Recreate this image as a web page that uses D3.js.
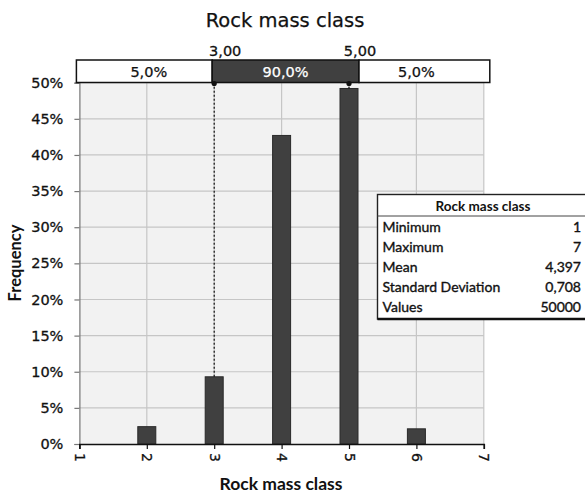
<!DOCTYPE html>
<html>
<head>
<meta charset="utf-8">
<script src="https://cdn.jsdelivr.net/npm/d3@7"></script>
<style>
  html, body { margin: 0; padding: 0; background: #fff; }
  svg { display: block; }
  text { paint-order: stroke; }
</style>
</head>
<body>
<svg id="chart" width="585" height="497"></svg>
<script>
// Histogram data: class value -> relative frequency
const classes = [2, 3, 4, 5, 6];
const frequencies = [0.024, 0.093, 0.427, 0.492, 0.021];

// Axis ticks
const xTicks = [1, 2, 3, 4, 5, 6, 7];
const yTicks = [0, 0.05, 0.10, 0.15, 0.20, 0.25, 0.30, 0.35, 0.40, 0.45, 0.50];

// Delimiters and the probability shares between them
const delimiters = [3, 5];
const delimiterLabels = ["3,00", "5,00"];
const bandShares = ["5,0%", "90,0%", "5,0%"];

// Summary statistics
const statNames = ["Minimum", "Maximum", "Mean", "Standard Deviation", "Values"];
const statValues = ["1", "7", "4,397", "0,708", "50000"];

const titleText = "Rock mass class";
const xTitle = "Rock mass class";
const yTitle = "Frequency";

const svg = d3.select("#chart");
const tahoma = "'DejaVu Sans', Verdana, sans-serif";
const calibri = "Lato, 'Open Sans', sans-serif";

// Slightly heavier strokes on text, matching the printed look
function ink(sel, color, w) {
  return sel.attr("fill", color).attr("stroke", color).attr("stroke-width", w);
}

const plot = { left: 79.4, right: 483.8, top: 82.7, bottom: 444 };

const x = d3.scaleLinear().domain([1, 7]).range([plot.left, plot.right]);
const y = d3.scaleLinear().domain([0, 0.5]).range([plot.bottom, plot.top]);

// Title
ink(svg.append("text")
  .attr("x", 285).attr("y", 27)
  .attr("text-anchor", "middle")
  .attr("font-family", tahoma).attr("font-size", 19.5)
  .text(titleText), "#111", 0.25);

// Plot background
svg.append("rect")
  .attr("x", plot.left).attr("y", plot.top)
  .attr("width", plot.right - plot.left).attr("height", plot.bottom - plot.top)
  .attr("fill", "#f2f2f2");

// Grid lines
svg.append("g").selectAll("line").data(xTicks.slice(1))
  .join("line")
  .attr("x1", d => x(d)).attr("x2", d => x(d))
  .attr("y1", plot.top).attr("y2", plot.bottom)
  .attr("stroke", "#c6c6c6").attr("stroke-width", 1.2);
svg.append("g").selectAll("line").data(yTicks.slice(1))
  .join("line")
  .attr("x1", plot.left).attr("x2", plot.right)
  .attr("y1", d => y(d)).attr("y2", d => y(d))
  .attr("stroke", "#c6c6c6").attr("stroke-width", 1.2);

// Y axis
const yAxis = d3.axisLeft(y).tickValues(yTicks).tickSize(5).tickPadding(11)
  .tickFormat(d => Math.round(d * 100) + "%");
const gy = svg.append("g").attr("transform", `translate(${plot.left},0)`).call(yAxis);
gy.select(".domain").attr("stroke", "#777").attr("stroke-width", 1.2);
gy.selectAll(".tick line").attr("stroke", "#777").attr("stroke-width", 1.2);
ink(gy.selectAll(".tick text")
  .attr("font-family", tahoma).attr("font-size", 14.5), "#111", 0.3);

// Bars
const barW = 18;
svg.append("g").selectAll("rect").data(classes)
  .join("rect")
  .attr("x", (d) => x(d) - barW / 2)
  .attr("y", (d, i) => y(frequencies[i]))
  .attr("width", barW)
  .attr("height", (d, i) => y(0) - y(frequencies[i]))
  .attr("fill", "#404040")
  .attr("stroke", "#2a2a2a").attr("stroke-width", 1);

// X axis
const xAxis = d3.axisBottom(x).tickValues(xTicks).tickSize(5).tickFormat(d3.format("d"));
const gx = svg.append("g").attr("transform", `translate(0,${plot.bottom})`).call(xAxis);
gx.select(".domain").attr("stroke", "#111").attr("stroke-width", 1.6);
gx.selectAll(".tick line").attr("stroke", "#111").attr("stroke-width", 1.2);
ink(gx.selectAll(".tick text")
  .attr("font-family", tahoma).attr("font-size", 14)
  .attr("transform", "rotate(90)")
  .attr("text-anchor", "start")
  .attr("x", 9).attr("y", 0).attr("dy", "0.35em"), "#111", 0.3);

// Delimiter lines from the band down to the bar tops
const freqOf = v => frequencies[classes.indexOf(v)];
svg.append("g").selectAll("line").data(delimiters)
  .join("line")
  .attr("x1", d => x(d)).attr("x2", d => x(d))
  .attr("y1", plot.top).attr("y2", d => y(freqOf(d)))
  .attr("stroke", "#111").attr("stroke-width", 1.2)
  .attr("stroke-dasharray", "2,2");

// Probability band above the plot
const band = { top: 60, bottom: 82.5, left: plot.left - 3, right: plot.right + 6 };
const edges = [band.left, x(delimiters[0]) - 2, x(delimiters[1]) + 10, band.right];
const centers = [
  (plot.left + x(delimiters[0])) / 2 + 2,
  (x(delimiters[0]) + x(delimiters[1])) / 2 + 4,
  (x(delimiters[1]) + plot.right) / 2
];
const bandG = svg.append("g");
bandG.selectAll("rect").data(bandShares)
  .join("rect")
  .attr("x", (d, i) => edges[i])
  .attr("y", band.top)
  .attr("width", (d, i) => edges[i + 1] - edges[i])
  .attr("height", band.bottom - band.top)
  .attr("fill", (d, i) => i === 1 ? "#404040" : "#fff")
  .attr("stroke", "#111").attr("stroke-width", 1.5);
bandG.selectAll("text").data(bandShares)
  .join("text")
  .attr("x", (d, i) => centers[i])
  .attr("y", 77)
  .attr("text-anchor", "middle")
  .attr("font-family", tahoma).attr("font-size", 14.5)
  .attr("fill", (d, i) => i === 1 ? "#fff" : "#111")
  .attr("stroke", (d, i) => i === 1 ? "#fff" : "#111")
  .attr("stroke-width", 0.25)
  .text(d => d);

// Delimiter markers and values
svg.append("g").selectAll("circle").data(delimiters)
  .join("circle")
  .attr("cx", d => x(d)).attr("cy", band.bottom + 1)
  .attr("r", 2.6).attr("fill", "#111");
ink(svg.append("g").selectAll("text").data(delimiters)
  .join("text")
  .attr("x", d => x(d) + 11).attr("y", 56)
  .attr("text-anchor", "middle")
  .attr("font-family", tahoma).attr("font-size", 14.5)
  .text((d, i) => delimiterLabels[i]), "#111", 0.3);

// Axis titles
svg.append("text")
  .attr("x", 281).attr("y", 490)
  .attr("text-anchor", "middle")
  .attr("font-family", calibri).attr("font-weight", "bold").attr("font-size", 17.5)
  .attr("fill", "#111")
  .text(xTitle);
svg.append("text")
  .attr("transform", "translate(21,263) rotate(-90)")
  .attr("text-anchor", "middle")
  .attr("font-family", calibri).attr("font-weight", "bold").attr("font-size", 16.5)
  .attr("fill", "#111")
  .text(yTitle);

// Statistics table
const tbl = { left: 377.5, top: 194.5, right: 592, headerBottom: 216, rowH: 20, bottom: 319 };
const tg = svg.append("g");
tg.append("rect")
  .attr("x", tbl.left).attr("y", tbl.top)
  .attr("width", tbl.right - tbl.left).attr("height", tbl.bottom - tbl.top)
  .attr("fill", "#fff").attr("stroke", "#222").attr("stroke-width", 1.4);
tg.append("line")
  .attr("x1", tbl.left).attr("x2", tbl.right)
  .attr("y1", tbl.headerBottom).attr("y2", tbl.headerBottom)
  .attr("stroke", "#444").attr("stroke-width", 1);
tg.append("line")
  .attr("x1", tbl.left).attr("x2", tbl.right)
  .attr("y1", tbl.bottom).attr("y2", tbl.bottom)
  .attr("stroke", "#111").attr("stroke-width", 2.4);
tg.append("text")
  .attr("x", 483).attr("y", 210.5)
  .attr("text-anchor", "middle")
  .attr("font-family", calibri).attr("font-weight", "bold").attr("font-size", 13.5)
  .attr("fill", "#111")
  .text(titleText);
ink(tg.selectAll("text.name").data(statNames)
  .join("text").attr("class", "name")
  .attr("x", 382.5).attr("y", (d, i) => 231.5 + i * tbl.rowH)
  .attr("font-family", calibri).attr("font-size", 14)
  .text(d => d), "#111", 0.35);
ink(tg.selectAll("text.val").data(statValues)
  .join("text").attr("class", "val")
  .attr("x", 581).attr("y", (d, i) => 231.5 + i * tbl.rowH)
  .attr("text-anchor", "end")
  .attr("font-family", calibri).attr("font-size", 14)
  .text(d => d), "#111", 0.35);
</script>
</body>
</html>
